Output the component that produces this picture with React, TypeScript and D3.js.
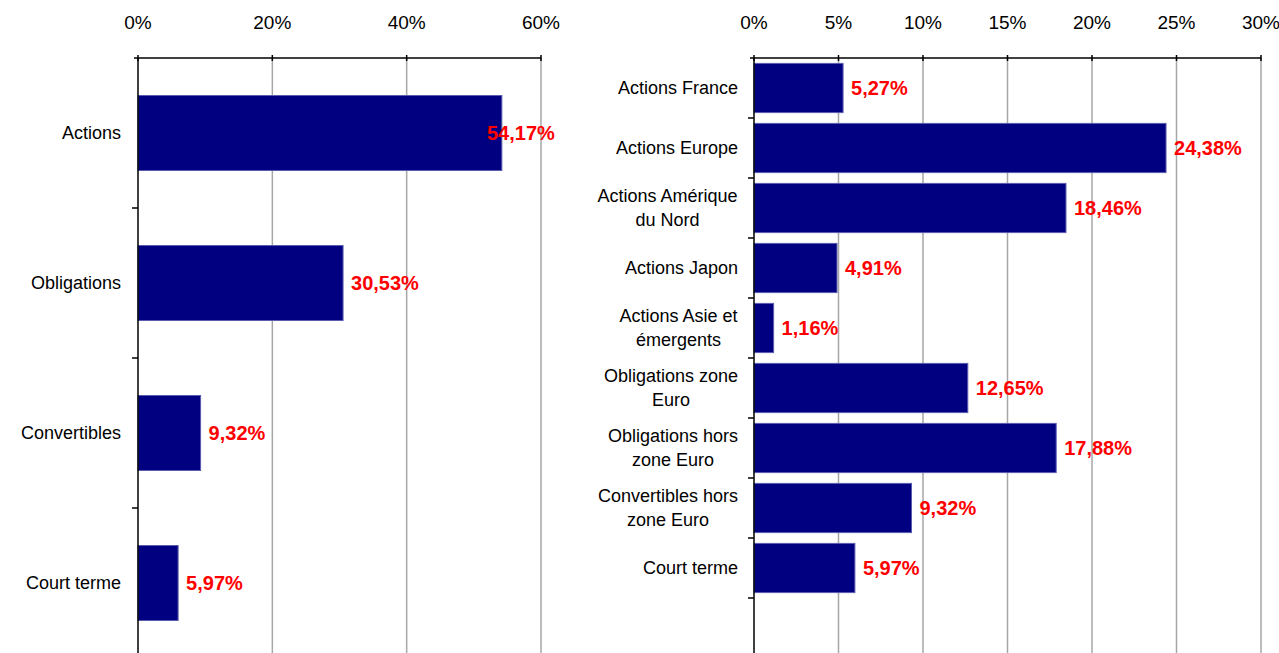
import React from "react";
import * as d3 from "d3";

const width = 1279;
const height = 653;

// left panel: broad asset classes
const leftCategories = ["Actions", "Obligations", "Convertibles", "Court terme"];
const leftValues = [54.17, 30.53, 9.32, 5.97];
const leftTicks = [0, 20, 40, 60];

// right panel: detailed breakdown (label lines as printed)
const rightCategories = [
  ["Actions France"],
  ["Actions Europe"],
  ["Actions Amérique", "du Nord"],
  ["Actions Japon"],
  ["Actions Asie et", "émergents"],
  ["Obligations zone", "Euro"],
  ["Obligations hors", "zone Euro"],
  ["Convertibles hors", "zone Euro"],
  ["Court terme"],
];
const rightValues = [5.27, 24.38, 18.46, 4.91, 1.16, 12.65, 17.88, 9.32, 5.97];
const rightTicks = [0, 5, 10, 15, 20, 25, 30];

const font = "'Liberation Sans', Arial, sans-serif";
const catSize = 18;
const tickSize = 19;
const valSize = 20;

const ctx = document.createElement("canvas").getContext("2d");
function textWidth(s: string, size: number) {
  if (!ctx) return s.length * size * 0.5;
  ctx.font = `${size}px ${font}`;
  return ctx.measureText(s).width;
}

const fmt = (v: number) => d3.format(".2f")(v).replace(".", ",") + "%";

type PanelProps = {
  cats: string[][];
  values: number[];
  ticks: number[];
  x0: number;
  x1: number;
  slots: number;
  padInner: number;
  labelRight: number;
};

function Panel({ cats, values, ticks, x0, x1, slots, padInner, labelRight }: PanelProps) {
  const top = 58;
  const x = d3.scaleLinear().domain([0, ticks[ticks.length - 1]]).range([x0, x1]);
  const keys = d3.range(slots).map(String);
  const y = d3
    .scaleBand()
    .domain(keys)
    .range([top, top + 600])
    .paddingInner(padInner)
    .paddingOuter(padInner / 2);
  const step = y.step();
  const lineH = 24;

  return (
    <g>
      {/* gridlines */}
      {ticks.slice(1).map((t) => (
        <line key={"g" + t} x1={x(t)} x2={x(t)} y1={top} y2={height + 10} stroke="#a6a6a6" strokeWidth={1.5} />
      ))}
      {/* bars */}
      {values.map((v, i) => (
        <rect
          key={"b" + i}
          x={x(0)}
          y={y(String(i))}
          width={x(v) - x(0)}
          height={y.bandwidth()}
          fill="#000080"
          stroke="#5b5bb0"
          strokeWidth={1}
        />
      ))}
      {/* top axis */}
      <line x1={x(0) - 4} x2={x1} y1={top} y2={top} stroke="#000" strokeWidth={1.5} />
      {ticks.map((t) => (
        <g key={"t" + t}>
          <line x1={x(t)} x2={x(t)} y1={top - 3} y2={top + 3} stroke="#000" strokeWidth={1.5} />
          <text
            x={x(t)}
            y={22}
            textAnchor="middle"
            dominantBaseline="central"
            fontFamily={font}
            fontSize={tickSize}
            fill="#000"
          >
            {t}%
          </text>
        </g>
      ))}
      {/* category axis */}
      <line x1={x(0)} x2={x(0)} y1={top} y2={height + 10} stroke="#000" strokeWidth={1.5} />
      {d3.range(1, slots + 1).map((k) => (
        <line key={"c" + k} x1={x(0) - 6} x2={x(0)} y1={top + k * step} y2={top + k * step} stroke="#000" strokeWidth={1.5} />
      ))}
      {cats.map((lines, i) => {
        const cy = (y(String(i)) as number) + y.bandwidth() / 2;
        const w = Math.max(...lines.map((l) => textWidth(l, catSize)));
        const cx = labelRight - w / 2;
        return (
          <text
            key={"l" + i}
            textAnchor="middle"
            fontFamily={font}
            fontSize={catSize}
            fill="#000"
            dominantBaseline="central"
          >
            {lines.map((l, j) => (
              <tspan key={j} x={cx} y={cy + (j - (lines.length - 1) / 2) * lineH}>
                {l}
              </tspan>
            ))}
          </text>
        );
      })}
      {/* value labels */}
      {values.map((v, i) => {
        const cy = (y(String(i)) as number) + y.bandwidth() / 2;
        const lx = Math.min(x(v) + 8, x1 - 54);
        return (
          <text
            key={"v" + i}
            x={lx}
            y={cy}
            dominantBaseline="central"
            fontFamily={font}
            fontSize={valSize}
            fontWeight="bold"
            fill="#ff0000"
          >
            {fmt(v)}
          </text>
        );
      })}
    </g>
  );
}

export default function App() {
  return (
    <svg
      width={width}
      height={height}
      style={{ position: "absolute", left: 0, top: 0, background: "#fff" }}
    >
      <rect width={width} height={height} fill="#fff" />
      <Panel
        cats={leftCategories.map((c) => [c])}
        values={leftValues}
        ticks={leftTicks}
        x0={138}
        x1={541}
        slots={4}
        padInner={0.5}
        labelRight={121}
      />
      <Panel
        cats={rightCategories}
        values={rightValues}
        ticks={rightTicks}
        x0={754}
        x1={1261}
        slots={10}
        padInner={0.18}
        labelRight={738}
      />
    </svg>
  );
}
